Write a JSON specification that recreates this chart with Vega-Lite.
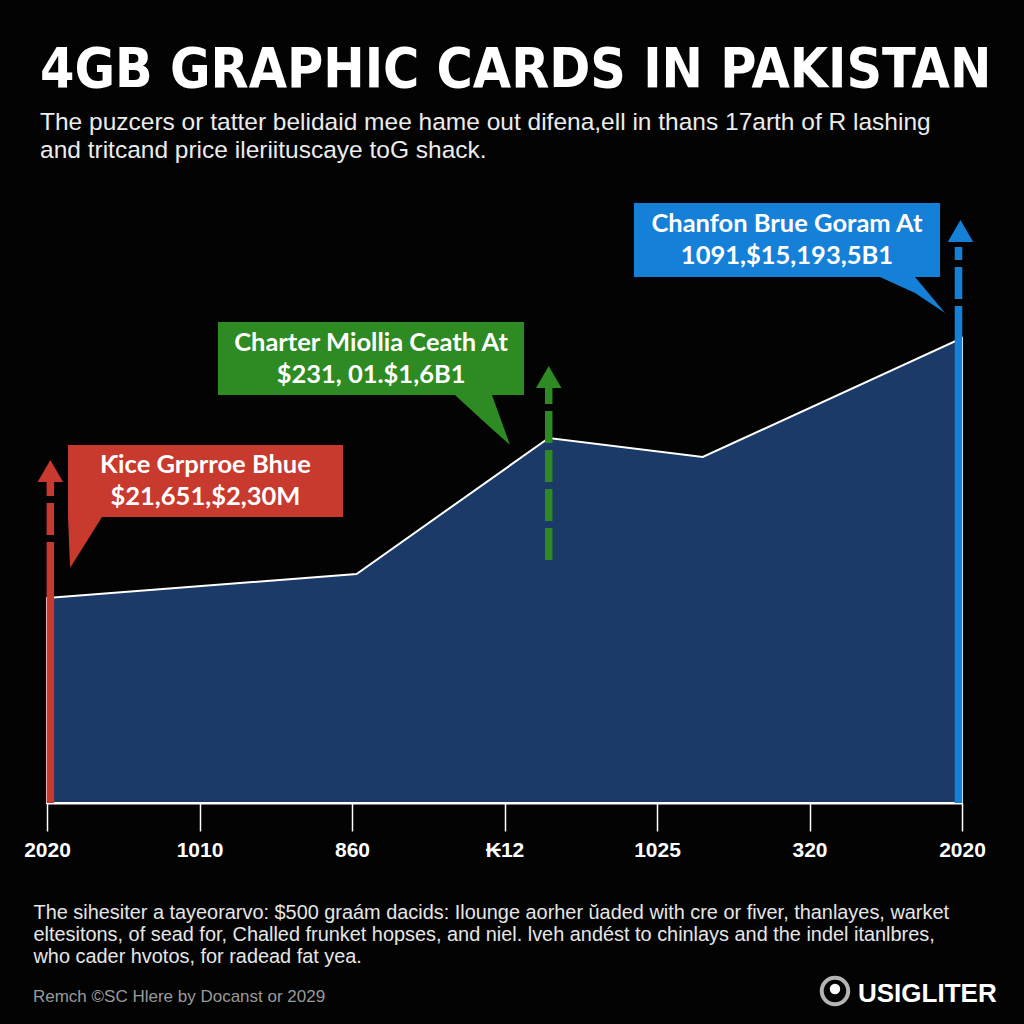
{
  "$schema": "https://vega.github.io/schema/vega-lite/v6.json",
  "width": 915,
  "height": 600,
  "autosize": {"type": "none"},
  "padding": {"left": 47, "top": 203, "right": 62, "bottom": 221},
  "background": "#030303",
  "config": {"view": {"stroke": null}, "font": "Liberation Sans"},
  "title": {
    "text": "4GB GRAPHIC CARDS IN PAKISTAN",
    "subtitle": ["The puzcers or tatter belidaid mee hame out difena,ell in thans 17arth of R lashing", "and tritcand price ileriituscaye toG shack."],
    "anchor": "start",
    "frame": "group",
    "dx": -7,
    "offset": 40,
    "color": "#ffffff",
    "font": "'DejaVu Sans Condensed', 'Liberation Sans', sans-serif",
    "fontSize": 55,
    "fontWeight": "bold",
    "subtitleColor": "#ececec",
    "subtitleFont": "Liberation Sans",
    "subtitleFontSize": 24.5,
    "subtitleLineHeight": 28,
    "subtitlePadding": 12
  },
  "datasets": {
    "series": [
      {"t": 0, "price": 205},
      {"t": 2.03, "price": 229},
      {"t": 3.29, "price": 365},
      {"t": 4.3, "price": 346},
      {"t": 6, "price": 465}
    ],
    "arrows": [
      {"name": "red", "t": 0.022, "y0": 0, "y1": 229, "kind": "solid"},
      {"name": "red", "t": 0.022, "y0": 229, "y1": 321, "kind": "dashed"},
      {"name": "green", "t": 3.29, "y0": 243, "y1": 416, "kind": "dashed"},
      {"name": "blue", "t": 5.977, "y0": 0, "y1": 465, "kind": "solid"},
      {"name": "blue", "t": 5.977, "y0": 465, "y1": 556, "kind": "dashed"}
    ],
    "heads": [
      {"name": "red", "t": 0.022, "y": 332},
      {"name": "green", "t": 3.29, "y": 426},
      {"name": "blue", "t": 5.99, "y": 572}
    ],
    "pointers": [
      {"name": "red", "t": 0.138, "top": 286, "bottom": 286},
      {"name": "red", "t": 0.151, "top": 286, "bottom": 235},
      {"name": "red", "t": 0.361, "top": 286, "bottom": 286},
      {"name": "green", "t": 2.675, "top": 408, "bottom": 408},
      {"name": "green", "t": 2.918, "top": 408, "bottom": 374},
      {"name": "green", "t": 3.036, "top": 358, "bottom": 358},
      {"name": "blue", "t": 5.462, "top": 526, "bottom": 526},
      {"name": "blue", "t": 5.692, "top": 526, "bottom": 510},
      {"name": "blue", "t": 5.889, "top": 490, "bottom": 490}
    ],
    "callouts": [
      {"name": "red", "label": "Ƙice Grprroe Bhue\n$21,651,$2,30M", "x0": 0.138, "x1": 1.941, "y0": 286, "y1": 358, "tx": 1.039, "ty": 322},
      {"name": "green", "label": "Charter Miollia Ceath At\n$231, 01.$1,6B1", "x0": 1.121, "x1": 3.128, "y0": 408, "y1": 481, "tx": 2.125, "ty": 444.5},
      {"name": "blue", "label": "Chanfon Brue Goram At\n1091,$15,193,5B1", "x0": 3.849, "x1": 5.856, "y0": 526, "y1": 600, "tx": 4.852, "ty": 563}
    ],
    "footer": [
      {"text": "Remch ©SC Hlere by Docanst or 2029"}
    ],
    "brand": [
      {"text": "USIGLITER"}
    ]
  },
  "layer": [
    {
      "data": {"name": "series"},
      "mark": {"type": "area", "fill": "#1b3a68", "stroke": "#ffffff", "strokeWidth": 2, "interpolate": "linear"},
      "encoding": {
        "x": {
          "field": "t", "type": "quantitative",
          "scale": {"domain": [0, 6], "nice": false, "zero": false},
          "axis": {
            "values": [0, 1, 2, 3, 4, 5, 6],
            "labelExpr": "datum.value == 1 ? '1010' : datum.value == 2 ? '860' : datum.value == 3 ? '₭12' : datum.value == 4 ? '1025' : datum.value == 5 ? '320' : '2020'",
            "grid": false,
            "domainColor": "#ffffff", "domainWidth": 2,
            "tickColor": "#ffffff", "tickWidth": 1.5, "tickSize": 28,
            "labelColor": "#ffffff", "labelFont": "Liberation Sans", "labelFontSize": 21, "labelFontWeight": "bold",
            "labelPadding": 8, "labelFlush": false, "labelOverlap": false,
            "title": ["The sihesiter a tayeorarvo: $500 graám dacids: Ilounge aorher ŭaded with cre or fiver, thanlayes, warket", "eltesitons, of sead for, Challed frunket hopses, and niel. lveh andést to chinlays and the indel itanlbres,", "who cader hvotos, for radead fat yea."],
            "titleAnchor": "start", "titleAlign": "left", "titleX": -14, "titleY": 99, "titleBaseline": "top",
            "titleColor": "#e6e6e6", "titleFont": "Liberation Sans", "titleFontSize": 19.9, "titleFontWeight": "normal", "titleLineHeight": 22
          }
        },
        "y": {"field": "price", "type": "quantitative", "scale": {"domain": [0, 600], "nice": false}, "axis": null}
      }
    },
    {
      "data": {"name": "arrows"},
      "mark": {"type": "rule", "strokeWidth": 7.5},
      "encoding": {
        "x": {"field": "t", "type": "quantitative"},
        "y": {"field": "y0", "type": "quantitative", "axis": null},
        "y2": {"field": "y1"},
        "color": {"field": "name", "type": "nominal", "scale": {"domain": ["red", "green", "blue"], "range": ["#c8392e", "#2e8a22", "#1580d8"]}, "legend": null},
        "strokeDash": {"field": "kind", "type": "nominal", "scale": {"domain": ["solid", "dashed"], "range": [[1, 0], [32, 7]]}, "legend": null}
      }
    },
    {
      "data": {"name": "heads"},
      "mark": {"type": "point", "shape": "triangle-up", "filled": true, "opacity": 1, "size": 650},
      "encoding": {
        "x": {"field": "t", "type": "quantitative"},
        "y": {"field": "y", "type": "quantitative", "axis": null},
        "color": {"field": "name", "type": "nominal", "legend": null}
      }
    },
    {
      "data": {"name": "pointers"},
      "mark": {"type": "area", "opacity": 1},
      "encoding": {
        "x": {"field": "t", "type": "quantitative"},
        "y": {"field": "top", "type": "quantitative", "axis": null},
        "y2": {"field": "bottom"},
        "color": {"field": "name", "type": "nominal", "scale": {"domain": ["red", "green", "blue"], "range": ["#c8362f", "#2a7b1e", "#0b79d2"]}, "legend": null},
        "detail": {"field": "name"}
      }
    },
    {
      "data": {"name": "callouts"},
      "mark": {"type": "rect"},
      "encoding": {
        "x": {"field": "x0", "type": "quantitative"},
        "x2": {"field": "x1"},
        "y": {"field": "y0", "type": "quantitative", "axis": null},
        "y2": {"field": "y1"},
        "color": {"field": "name", "type": "nominal", "legend": null}
      }
    },
    {
      "data": {"name": "callouts"},
      "mark": {"type": "text", "lineBreak": "\n", "lineHeight": 32, "font": "Lato", "fontSize": 25.5, "fontWeight": "bold", "color": "#ffffff", "align": "center", "baseline": "middle", "dy": -16},
      "encoding": {
        "x": {"field": "tx", "type": "quantitative"},
        "y": {"field": "ty", "type": "quantitative", "axis": null},
        "text": {"field": "label"}
      }
    },
    {
      "data": {"name": "footer"},
      "mark": {"type": "text", "align": "left", "baseline": "alphabetic", "font": "Liberation Sans", "fontSize": 17, "color": "#9a9a9a"},
      "encoding": {
        "x": {"datum": -0.092, "type": "quantitative"},
        "y": {"datum": -199, "type": "quantitative", "axis": null},
        "text": {"field": "text"}
      }
    },
    {
      "data": {"name": "brand"},
      "mark": {"type": "point", "shape": "circle", "filled": false, "stroke": "#ffffff", "strokeWidth": 4, "size": 700},
      "encoding": {
        "x": {"datum": 5.167, "type": "quantitative"},
        "y": {"datum": -188, "type": "quantitative", "axis": null}
      }
    },
    {
      "data": {"name": "brand"},
      "mark": {"type": "point", "shape": "circle", "filled": true, "fill": "#ffffff", "opacity": 1, "size": 110},
      "encoding": {
        "x": {"datum": 5.167, "type": "quantitative"},
        "y": {"datum": -186, "type": "quantitative", "axis": null}
      }
    },
    {
      "data": {"name": "brand"},
      "mark": {"type": "text", "align": "left", "baseline": "alphabetic", "font": "Liberation Sans", "fontSize": 26, "fontWeight": "bold", "color": "#ffffff"},
      "encoding": {
        "x": {"datum": 5.318, "type": "quantitative"},
        "y": {"datum": -199, "type": "quantitative", "axis": null},
        "text": {"field": "text"}
      }
    }
  ]
}
